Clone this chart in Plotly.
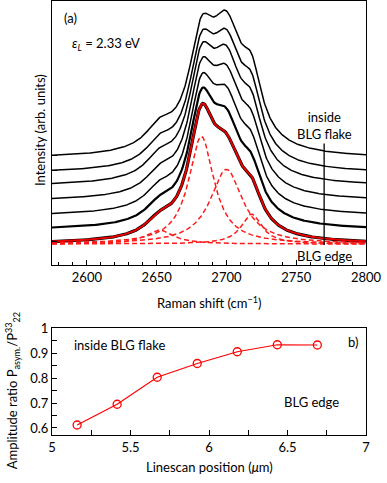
import numpy as np
import plotly.graph_objects as go
from plotly.subplots import make_subplots

# Raman shift grid (cm^-1)
shift = np.arange(2575, 2800.5, 0.5)

# 2D band: four Lorentzian components (position, half width)
peak_pos = [2652, 2682, 2700, 2718]
peak_hw = [12, 11, 14, 9]

# component amplitudes per spectrum, top (inside BLG flake) -> bottom (BLG edge)
amp_2652 = [20, 19, 18, 17, 16, 15, 14]
amp_2682 = [95, 96, 98, 100, 102, 105, 108]
amp_2700 = [110, 107, 104, 100, 94, 86, 75]
amp_2718 = [55, 52, 48, 44, 40, 35, 30]
offsets = [107, 92, 79, 64, 49, 35, 21]

# panel b)
linescan_pos = [5.16, 5.415, 5.67, 5.925, 6.18, 6.435, 6.69]
amp_ratio = [0.612, 0.695, 0.803, 0.858, 0.905, 0.933, 0.932]


def lorentz(x, x0, hw, a):
    return a / (1 + ((x - x0) / hw) ** 2)


fig = make_subplots(rows=2, cols=1)

n = len(offsets)
starts = []
for i in range(n):
    amps = [amp_2652[i], amp_2682[i], amp_2700[i], amp_2718[i]]
    comps = [lorentz(shift, p, w, a) for p, w, a in zip(peak_pos, peak_hw, amps)]
    total = offsets[i] + sum(comps)
    starts.append(total[0])
    # lower spectra are noisier -> thicker line
    lw = 1.5 if i < n - 2 else (2.2 if i == n - 2 else 3.2)
    fig.add_trace(go.Scatter(x=shift, y=total, mode="lines",
                             line=dict(color="black", width=lw)), row=1, col=1)
    if i == n - 1:
        for c in comps:
            fig.add_trace(go.Scatter(x=shift, y=offsets[i] + c, mode="lines",
                                     line=dict(color="#ff1a1a", width=1.5, dash="5px,3px")),
                          row=1, col=1)
        fig.add_trace(go.Scatter(x=shift, y=total, mode="lines",
                                 line=dict(color="#e60000", width=2)), row=1, col=1)

fig.add_trace(go.Scatter(x=linescan_pos, y=amp_ratio, mode="lines+markers",
                         line=dict(color="#ff0000", width=1.2),
                         marker=dict(symbol="circle-open", size=8, color="#ff0000",
                                     line=dict(width=1.3))),
              row=2, col=1)

# vertical marker line
fig.add_shape(type="line", x0=2770, x1=2770, y0=20, y1=122, xref="x", yref="y",
              line=dict(color="black", width=1.3))

fnt = dict(family="Lato, DejaVu Sans, sans-serif", size=13, color="black")

ann = [
    dict(x=2582, y=248, text="(a)", xanchor="left"),
    dict(x=2588, y=222, text="<i>ε</i><sub><i>L</i></sub> = 2.33 eV", xanchor="left"),
    dict(x=2770, y=140, text="inside<br>BLG flake", xanchor="center"),
    dict(x=2770, y=9, text="BLG edge", xanchor="center"),
]
for a in ann:
    fig.add_annotation(xref="x", yref="y", showarrow=False, font=fnt, **a)

ann2 = [
    dict(x=5.127, y=0.932, text="inside BLG flake", xanchor="left"),
    dict(x=6.465, y=0.704, text="BLG edge", xanchor="left"),
    dict(x=6.87, y=0.944, text="b)", xanchor="left"),
]
for a in ann2:
    fig.add_annotation(xref="x2", yref="y2", showarrow=False, font=fnt, **a)

# axis titles as paper annotations (plot area: x 52..366 px, y 1..435 px)
titles = [
    dict(x=0.5, y=0.306, text="Raman shift (cm<sup>−1</sup>)", textangle=0),
    dict(x=-0.038, y=0.703, text="Intensity (arb. units)", textangle=-90),
    dict(x=0.5, y=-0.074, text="Linescan position (<i>μ</i>m)", textangle=0),
    dict(x=-0.127, y=0.101,
         text="Amplitude ratio P<sub>asym.</sub>/P<sup>33</sup><sub>22</sub>", textangle=-90),
]
for t in titles:
    fig.add_annotation(xref="paper", yref="paper", showarrow=False, font=fnt,
                       xanchor="center", yanchor="middle", **t)

axis_common = dict(showline=True, linecolor="black", linewidth=1, mirror=True,
                   ticks="inside", tickcolor="black", showgrid=False, zeroline=False,
                   automargin=False)

fig.update_xaxes(range=[2575, 2800], tickvals=[2600, 2650, 2700, 2750, 2800],
                 ticklen=5, minor=dict(dtick=10, ticklen=3, ticks="inside", tickcolor="black"),
                 row=1, col=1, **axis_common)
fig.update_yaxes(range=[0, 265], tickvals=starts, showticklabels=False, ticklen=5,
                 row=1, col=1, **axis_common)

fig.update_xaxes(range=[5, 7], dtick=0.5, tick0=5, ticklen=5,
                 minor=dict(dtick=0.25, ticklen=5, ticks="inside", tickcolor="black"),
                 row=2, col=1, **axis_common)
fig.update_yaxes(range=[0.572, 1.0], dtick=0.1, tick0=0.6, ticklen=5,
                 minor=dict(dtick=0.05, ticklen=5, ticks="inside", tickcolor="black"),
                 row=2, col=1, **axis_common)

fig.update_layout(
    width=387, height=483,
    margin=dict(l=52, r=21, t=1, b=48),
    plot_bgcolor="white", paper_bgcolor="white",
    showlegend=False,
    font=fnt,
    xaxis=dict(domain=[0, 1]),
    yaxis=dict(domain=[0.3917, 1.0]),
    xaxis2=dict(domain=[0, 1]),
    yaxis2=dict(domain=[0.0, 0.2465]),
)

fig.write_html("out.html", config={"displayModeBar": False},
               post_script="document.body.style.margin='0';")
